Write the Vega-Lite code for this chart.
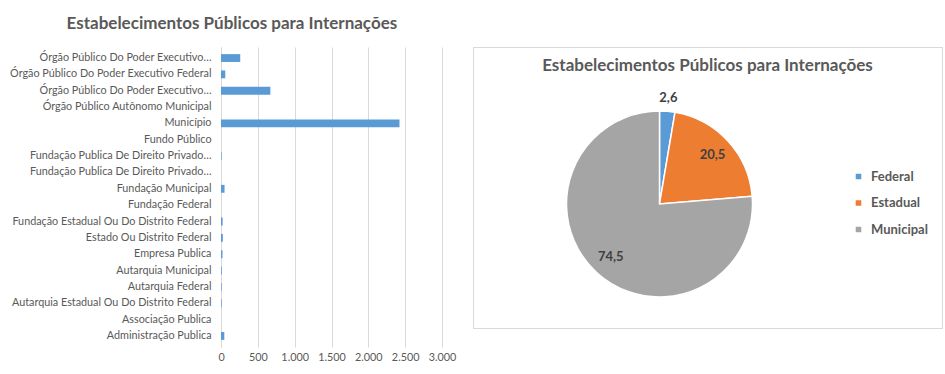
{
  "$schema": "https://vega.github.io/schema/vega-lite/v6.json",
  "padding": {"top": 15, "left": 0, "right": 0, "bottom": 0},
  "background": "white",
  "config": {
    "locale": {"number": {"decimal": ",", "thousands": ".", "grouping": [3], "currency": ["R$ ", ""]}},
    "font": "Lato",
    "concat": {"spacing": 16}
  },
  "hconcat": [
    {
      "title": {"text": "Estabelecimentos Públicos para Internações", "fontSize": 17, "font": "Lato", "fontWeight": "bold", "color": "#595959", "offset": 14, "anchor": "middle", "frame": "bounds", "dx": 4},
      "width": 221,
      "height": 300,
      "view": {"stroke": null},
      "data": {"values": [
        {"tipo": "Órgão Público Do Poder Executivo Municipal", "qtd": 261},
        {"tipo": "Órgão Público Do Poder Executivo Federal", "qtd": 58},
        {"tipo": "Órgão Público Do Poder Executivo Estadual Ou Do Distrito Federal", "qtd": 670},
        {"tipo": "Órgão Público Autônomo Municipal", "qtd": 0},
        {"tipo": "Município", "qtd": 2423},
        {"tipo": "Fundo Público", "qtd": 0},
        {"tipo": "Fundação Publica De Direito Privado Municipal", "qtd": 8},
        {"tipo": "Fundação Publica De Direito Privado Estadual Ou Do Distrito Federal", "qtd": 0},
        {"tipo": "Fundação Municipal", "qtd": 48},
        {"tipo": "Fundação Federal", "qtd": 0},
        {"tipo": "Fundação Estadual Ou Do Distrito Federal", "qtd": 22},
        {"tipo": "Estado Ou Distrito Federal", "qtd": 25},
        {"tipo": "Empresa Publica", "qtd": 20},
        {"tipo": "Autarquia Municipal", "qtd": 10},
        {"tipo": "Autarquia Federal", "qtd": 9},
        {"tipo": "Autarquia Estadual Ou Do Distrito Federal", "qtd": 9},
        {"tipo": "Associação Publica", "qtd": 0},
        {"tipo": "Administração Publica", "qtd": 45}
      ]},
      "mark": {"type": "bar", "color": "#5B9BD5"},
      "encoding": {
        "y": {
          "field": "tipo", "type": "nominal", "sort": null,
          "scale": {"paddingInner": 0.52, "paddingOuter": 0.435},
          "axis": {"title": null, "ticks": false, "domainColor": "#d9d9d9", "labelFontSize": 10.8, "labelColor": "#595959", "labelPadding": 10, "minExtent": 221, "maxExtent": 221, "labelLimit": 0,
            "labelExpr": "length(datum.label) > 41 ? (indexof(datum.label, 'Executivo') > 0 ? 'Órgão Público Do Poder Executivo…' : 'Fundação Publica De Direito Privado…') : datum.label"}
        },
        "x": {
          "field": "qtd", "type": "quantitative",
          "scale": {"domain": [0, 3000]},
          "axis": {"title": null, "values": [0, 500, 1000, 1500, 2000, 2500, 3000], "format": ",d", "domain": false, "ticks": false, "gridColor": "#d9d9d9", "labelColor": "#595959", "labelFontSize": 10.8, "labelPadding": 4, "labelOverlap": false, "labelFlush": false}
        }
      }
    },
    {
      "width": 469,
      "height": 281,
      "view": {"stroke": "#d9d9d9"},
      "title": {"text": "Estabelecimentos Públicos para Internações", "fontSize": 17, "font": "Lato", "fontWeight": "bold", "color": "#595959", "offset": -28, "anchor": "middle"},
      "data": {"values": [
        {"esfera": "Federal", "pct": 2.6, "ordem": 1},
        {"esfera": "Estadual", "pct": 20.5, "ordem": 2},
        {"esfera": "Municipal", "pct": 74.5, "ordem": 3}
      ]},
      "encoding": {
        "theta": {"field": "pct", "type": "quantitative", "stack": true},
        "order": {"field": "ordem", "type": "quantitative"},
        "color": {
          "field": "esfera", "type": "nominal",
          "scale": {"domain": ["Federal", "Estadual", "Municipal"], "range": ["#5B9BD5", "#ED7D31", "#A5A5A5"]},
          "legend": {"title": null, "orient": "none", "legendX": 631, "legendY": 123, "symbolType": "square", "symbolSize": 50, "labelFontSize": 13, "labelFontWeight": "bold", "labelColor": "#595959", "rowPadding": 11.5, "labelOffset": 6}
        }
      },
      "layer": [
        {"mark": {"type": "arc", "outerRadius": 93, "stroke": "white", "strokeWidth": 1.5, "x": 186.5, "y": 157}},
        {"mark": {"type": "text", "radius": 72, "fontSize": 13, "fontWeight": "bold", "x": 186.5, "y": 157},
          "encoding": {"color": {"value": "#404040"}, "text": {"condition": {"test": "datum.esfera == 'Federal'", "value": ""}, "field": "pct", "type": "quantitative", "format": ".1f"}}},
        {"mark": {"type": "text", "radius": 106, "fontSize": 13, "fontWeight": "bold", "x": 186.5, "y": 157},
          "encoding": {"color": {"value": "#404040"}, "text": {"condition": {"test": "datum.esfera != 'Federal'", "value": ""}, "field": "pct", "type": "quantitative", "format": ".1f"}}}
      ]
    }
  ]
}
